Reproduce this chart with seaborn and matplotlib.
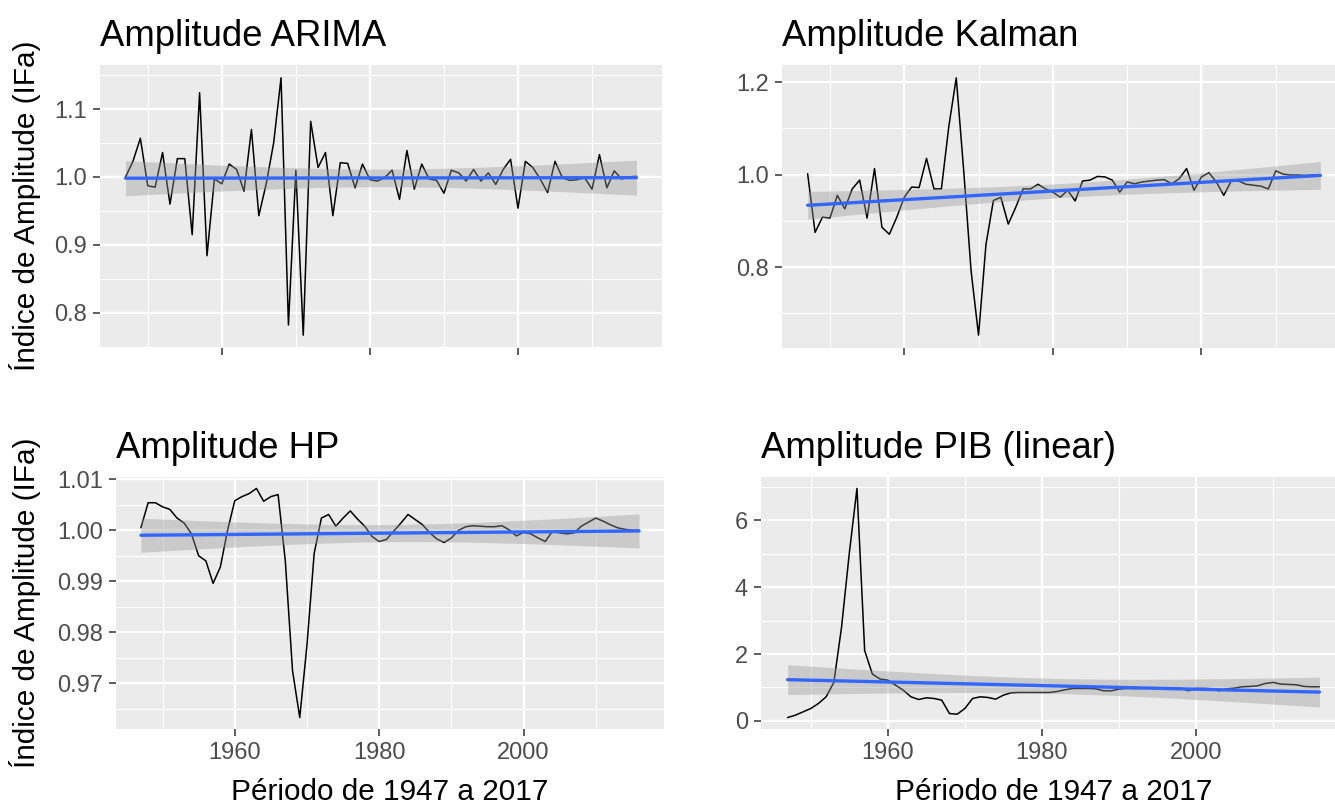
import numpy as np
import pandas as pd
import matplotlib
matplotlib.use("Agg")
import matplotlib.pyplot as plt
import seaborn as sns

# annual series, 1947-2016
years = list(range(1947, 2017))

arima = [1.000, 1.023, 1.057, 0.987, 0.985, 1.036, 0.960, 1.027, 1.027, 0.915,
         1.124, 0.884, 0.997, 0.990, 1.019, 1.011, 0.979, 1.070, 0.943, 0.990,
         1.050, 1.146, 0.782, 1.010, 0.767, 1.082, 1.014, 1.036, 0.943, 1.021,
         1.020, 0.984, 1.019, 0.996, 0.994, 0.999, 1.010, 0.967, 1.039, 0.982,
         1.019, 0.997, 0.995, 0.976, 1.010, 1.006, 0.994, 1.011, 0.994, 1.006,
         0.989, 1.011, 1.026, 0.954, 1.023, 1.014, 0.997, 0.977, 1.023, 0.999,
         0.995, 0.996, 0.999, 0.982, 1.033, 0.984, 1.009, 0.997, 1.000, 1.001]

kalman = [1.002, 0.875, 0.908, 0.906, 0.955, 0.926, 0.969, 0.988, 0.906, 1.013,
          0.886, 0.871, 0.908, 0.951, 0.973, 0.972, 1.035, 0.969, 0.969, 1.104,
          1.209, 1.009, 0.791, 0.653, 0.849, 0.944, 0.951, 0.893, 0.929, 0.969,
          0.969, 0.979, 0.969, 0.962, 0.951, 0.966, 0.943, 0.986, 0.988, 0.996,
          0.995, 0.988, 0.962, 0.984, 0.980, 0.984, 0.986, 0.988, 0.989, 0.980,
          0.991, 1.013, 0.966, 0.995, 1.004, 0.984, 0.955, 0.986, 0.986, 0.979,
          0.977, 0.975, 0.969, 1.008, 1.001, 0.999, 0.999, 0.998, 0.999, 0.999]

hp = [1.0005, 1.0054, 1.0054, 1.0046, 1.0041, 1.0024, 1.0014, 0.9993, 0.9950, 0.9940,
      0.9896, 0.9928, 1.0000, 1.0058, 1.0066, 1.0072, 1.0082, 1.0057, 1.0066, 1.0070,
      0.9940, 0.9725, 0.9633, 0.9775, 0.9955, 1.0024, 1.0031, 1.0008, 1.0024, 1.0038,
      1.0022, 1.0008, 0.9988, 0.9978, 0.9982, 0.9998, 1.0014, 1.0031, 1.0021, 1.0011,
      0.9995, 0.9983, 0.9976, 0.9985, 1.0000, 1.0007, 1.0009, 1.0008, 1.0007, 1.0007,
      1.0009, 1.0001, 0.9989, 0.9996, 0.9993, 0.9985, 0.9978, 0.9998, 0.9995, 0.9993,
      0.9995, 1.0008, 1.0016, 1.0024, 1.0018, 1.0011, 1.0005, 1.0002, 1.0000, 1.0000]

pib = [0.10, 0.17, 0.27, 0.37, 0.52, 0.72, 1.15, 2.80, 5.00, 6.95,
       2.10, 1.40, 1.25, 1.22, 1.07, 0.92, 0.72, 0.64, 0.69, 0.67,
       0.62, 0.22, 0.20, 0.37, 0.67, 0.72, 0.70, 0.65, 0.77, 0.84,
       0.85, 0.85, 0.85, 0.85, 0.85, 0.88, 0.93, 0.97, 0.97, 0.97,
       0.96, 0.90, 0.90, 0.95, 0.97, 0.97, 0.97, 0.98, 0.97, 0.96,
       0.97, 0.98, 0.90, 0.97, 0.97, 0.96, 0.90, 0.96, 0.98, 1.02,
       1.03, 1.05, 1.12, 1.15, 1.10, 1.09, 1.08, 1.03, 1.02, 1.02]

titles = ["Amplitude ARIMA", "Amplitude Kalman", "Amplitude HP", "Amplitude PIB (linear)"]
ylabel = "Índice de Amplitude (IFa)"
xlabel = "Périodo de 1947 a 2017"

df = pd.DataFrame({"ano": years, "ARIMA": arima, "Kalman": kalman, "HP": hp, "PIB": pib})
cols = ["ARIMA", "Kalman", "HP", "PIB"]

yticks = [
    ([0.8, 0.9, 1.0, 1.1], ["0.8", "0.9", "1.0", "1.1"], [0.75, 0.85, 0.95, 1.05, 1.15]),
    ([0.8, 1.0, 1.2], ["0.8", "1.0", "1.2"], [0.7, 0.9, 1.1]),
    ([0.97, 0.98, 0.99, 1.00, 1.01], ["0.97", "0.98", "0.99", "1.00", "1.01"],
     [0.965, 0.975, 0.985, 0.995, 1.005]),
    ([0, 2, 4, 6], ["0", "2", "4", "6"], [1, 3, 5, 7]),
]

sns.set_theme(style="darkgrid")
plt.rcParams["font.family"] = ["Liberation Sans", "DejaVu Sans"]

W, H = 1335, 805
fig = plt.figure(figsize=(W / 100, H / 100), dpi=100)

# panel boxes in pixels (left, top, right, bottom); right column runs off the edge
boxes = [(100, 65, 662, 348), (782, 65, 1346, 348),
         (116, 477, 664, 729), (761, 477, 1346, 729)]


def lm_band(x, y, t=1.995):
    # 95% confidence band of a straight-line fit, like geom_smooth(method="lm")
    coef = np.polyfit(x, y, 1)
    fit = np.polyval(coef, x)
    n = len(x)
    s = np.sqrt(np.sum((y - fit) ** 2) / (n - 2))
    se = s * np.sqrt(1 / n + (x - x.mean()) ** 2 / np.sum((x - x.mean()) ** 2))
    return fit - t * se, fit + t * se


for i, (col, title, box) in enumerate(zip(cols, titles, boxes)):
    l, t, r, b = box
    ax = fig.add_axes([l / W, 1 - b / H, (r - l) / W, (b - t) / H])
    ax.set_facecolor("#EBEBEB")
    ax.set_axisbelow(True)

    sns.lineplot(data=df, x="ano", y=col, ax=ax, color="black", lw=1.1, errorbar=None)
    x = df["ano"].to_numpy(float)
    lo, hi = lm_band(x, df[col].to_numpy(float))
    ax.fill_between(x, lo, hi, color="#999999", alpha=0.4, lw=0, zorder=2.5)
    sns.regplot(data=df, x="ano", y=col, ax=ax, scatter=False, ci=None,
                line_kws=dict(color="#3366FF", lw=2.4, zorder=3))

    vals = df[col]
    span = vals.max() - vals.min()
    ax.set_ylim(vals.min() - 0.05 * span, vals.max() + 0.05 * span)
    ax.set_xlim(1947 - 3.45, 2016 + 3.45)

    major, labels, minor = yticks[i]
    ax.set_yticks(major)
    ax.set_yticklabels(labels)
    ax.set_yticks(minor, minor=True)
    ax.set_xticks([1960, 1980, 2000])
    ax.set_xticklabels(["1960", "1980", "2000"])
    ax.set_xticks([1950, 1970, 1990, 2010], minor=True)

    ax.grid(which="major", color="white", lw=1.6)
    ax.grid(which="minor", color="white", lw=0.8)
    for s in ax.spines.values():
        s.set_visible(False)
    ax.tick_params(which="major", bottom=True, left=True, length=5.3, width=1.1,
                   color="#333333", labelsize=17, labelcolor="#4D4D4D", pad=4)
    ax.tick_params(which="minor", length=0)

    ax.set_title(title, loc="left", fontsize=26.3, pad=14, color="black")
    ax.set_ylabel("")
    if i < 2:
        ax.set_xlabel("")
        ax.tick_params(labelbottom=False)
    else:
        ax.set_xlabel(xlabel, fontsize=21.4, color="black", labelpad=10)

fig.text(25 / W, 1 - 206 / H, ylabel, rotation=90, ha="center", va="center",
         fontsize=21.4, color="black")
fig.text(25 / W, 1 - 603 / H, ylabel, rotation=90, ha="center", va="center",
         fontsize=21.4, color="black")

fig.savefig("out.png", dpi=100, facecolor="white")
